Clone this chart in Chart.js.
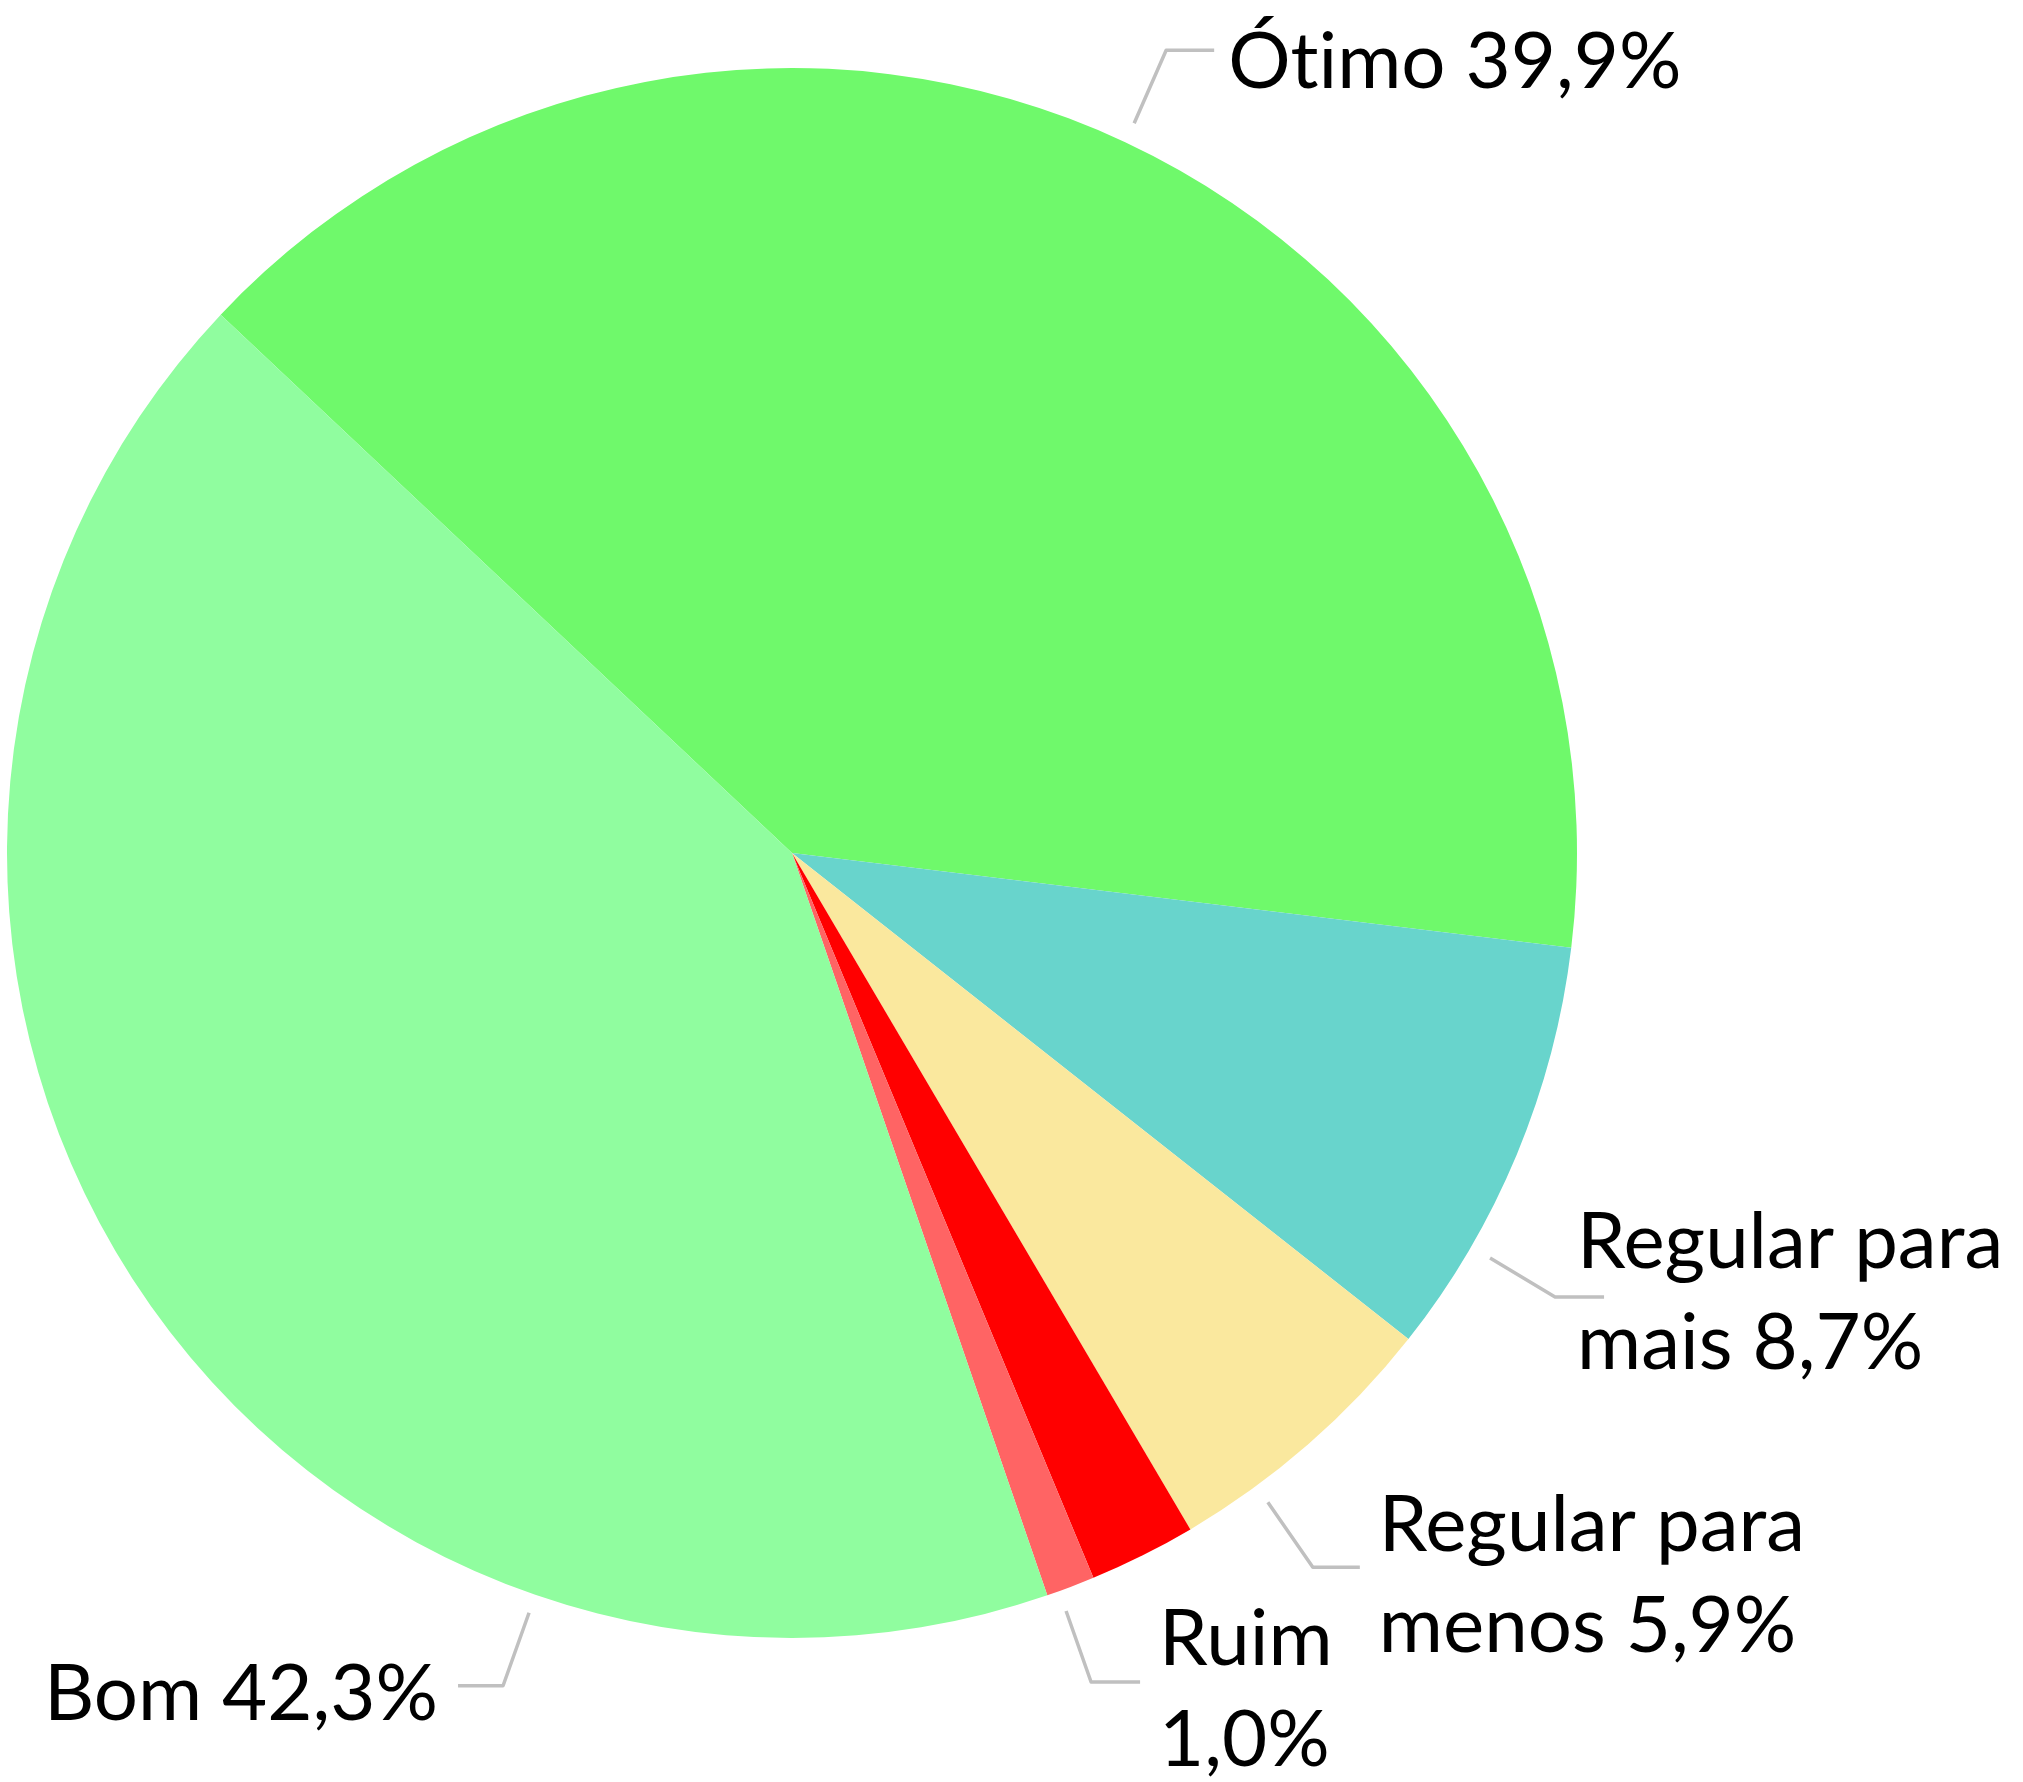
<!DOCTYPE html>
<html>
<head>
<meta charset="utf-8">
<script src="https://cdn.jsdelivr.net/npm/chart.js@4/dist/chart.umd.min.js"></script>
<style>
  html, body { margin: 0; padding: 0; background: #fff; }
  #wrap { width: 2023px; height: 1782px; position: relative; }
</style>
</head>
<body>
<div id="wrap"><canvas id="pie"></canvas></div>
<script>
// data
const categories = ['Ótimo', 'Regular para mais', 'Regular para menos', 'Péssimo', 'Ruim', 'Bom']
const shares     = [39.9, 8.7, 5.9, 2.2, 1.0, 42.3]
const showLabel  = [true, true, true, false, true, true]
const colors     = ['#6ff96b', '#68d4cc', '#fae89e', '#ff0000', '#ff6464', '#90fd9f']

const FONT = '78px Lato'
const LINE_H = 101

// leader line layout per slice: t = where along the arc the line starts,
// elbow = offset of the bend, run = horizontal tail, tx/ty = first text baseline vs tail end
const leaders = [
  { t: 0.50, gap: 21, elbow: [32, -73], run: 48,  tx: 14,  ty: 38,  wrap: 900, align: 'left' },
  { t: 0.74, gap: 22, elbow: [65, 39],  run: 49,  tx: -27, ty: -29, wrap: 470, align: 'left' },
  { t: 0.73, gap: 20, elbow: [45, 65],  run: 47,  tx: 19,  ty: -16, wrap: 470, align: 'left' },
  null,
  { t: 0.75, gap: 21, elbow: [25, 71],  run: 49,  tx: 19,  ty: -17, wrap: 200, align: 'left' },
  { t: 0.25, gap: 19, elbow: [-26, 73], run: -45, tx: -20, ty: 34,  wrap: 900, align: 'right' },
]

const fmtPct = v => v.toFixed(1).replace('.', ',') + '%'
// Lato joins "ti" into a ligature; a zero-width non-joiner keeps them apart
const noLig = s => s.replace(/t(?=i)/g, 't\u200C')

function wrapText(ctx, text, maxW) {
  const words = text.split(' ')
  const lines = []
  let cur = ''
  words.forEach(w => {
    const test = cur ? cur + ' ' + w : w
    if (cur && ctx.measureText(test).width > maxW) { lines.push(cur); cur = w }
    else cur = test
  })
  if (cur) lines.push(cur)
  return lines
}

const leaderLabels = {
  id: 'leaderLabels',
  afterDatasetsDraw(chart) {
    const ctx = chart.ctx
    const meta = chart.getDatasetMeta(0)
    ctx.save()
    ctx.font = FONT
    meta.data.forEach((arc, i) => {
      const L = leaders[i]
      if (!showLabel[i] || !L) return
      const p = arc.getProps(['x', 'y', 'startAngle', 'endAngle', 'outerRadius'], true)
      const a = p.startAngle + L.t * (p.endAngle - p.startAngle)
      const R = p.outerRadius + L.gap
      const sx = p.x + R * Math.cos(a), sy = p.y + R * Math.sin(a)
      const ex = sx + L.elbow[0], ey = sy + L.elbow[1]
      const tx = ex + L.run
      ctx.strokeStyle = '#c0c0c0'
      ctx.lineWidth = 3.5
      ctx.lineJoin = 'round'
      ctx.beginPath()
      ctx.moveTo(sx, sy); ctx.lineTo(ex, ey); ctx.lineTo(tx, ey)
      ctx.stroke()

      ctx.fillStyle = '#000'
      ctx.textAlign = L.align
      ctx.textBaseline = 'alphabetic'
      const lines = wrapText(ctx, categories[i] + ' ' + fmtPct(shares[i]), L.wrap)
      lines.forEach((ln, k) => ctx.fillText(noLig(ln), tx + L.tx, ey + L.ty + k * LINE_H))
    })
    ctx.restore()
  }
}

new Chart(document.getElementById('pie'), {
  type: 'pie',
  data: {
    labels: categories,
    datasets: [{
      data: shares,
      backgroundColor: colors,
      borderWidth: 0,
    }]
  },
  options: {
    responsive: true,
    maintainAspectRatio: false,
    animation: false,
    rotation: -46.7,
    layout: { padding: { left: 7, right: 446, top: 68, bottom: 144 } },
    plugins: {
      legend: { display: false },
      tooltip: { enabled: false }
    }
  },
  plugins: [leaderLabels]
})
</script>
</body>
</html>
